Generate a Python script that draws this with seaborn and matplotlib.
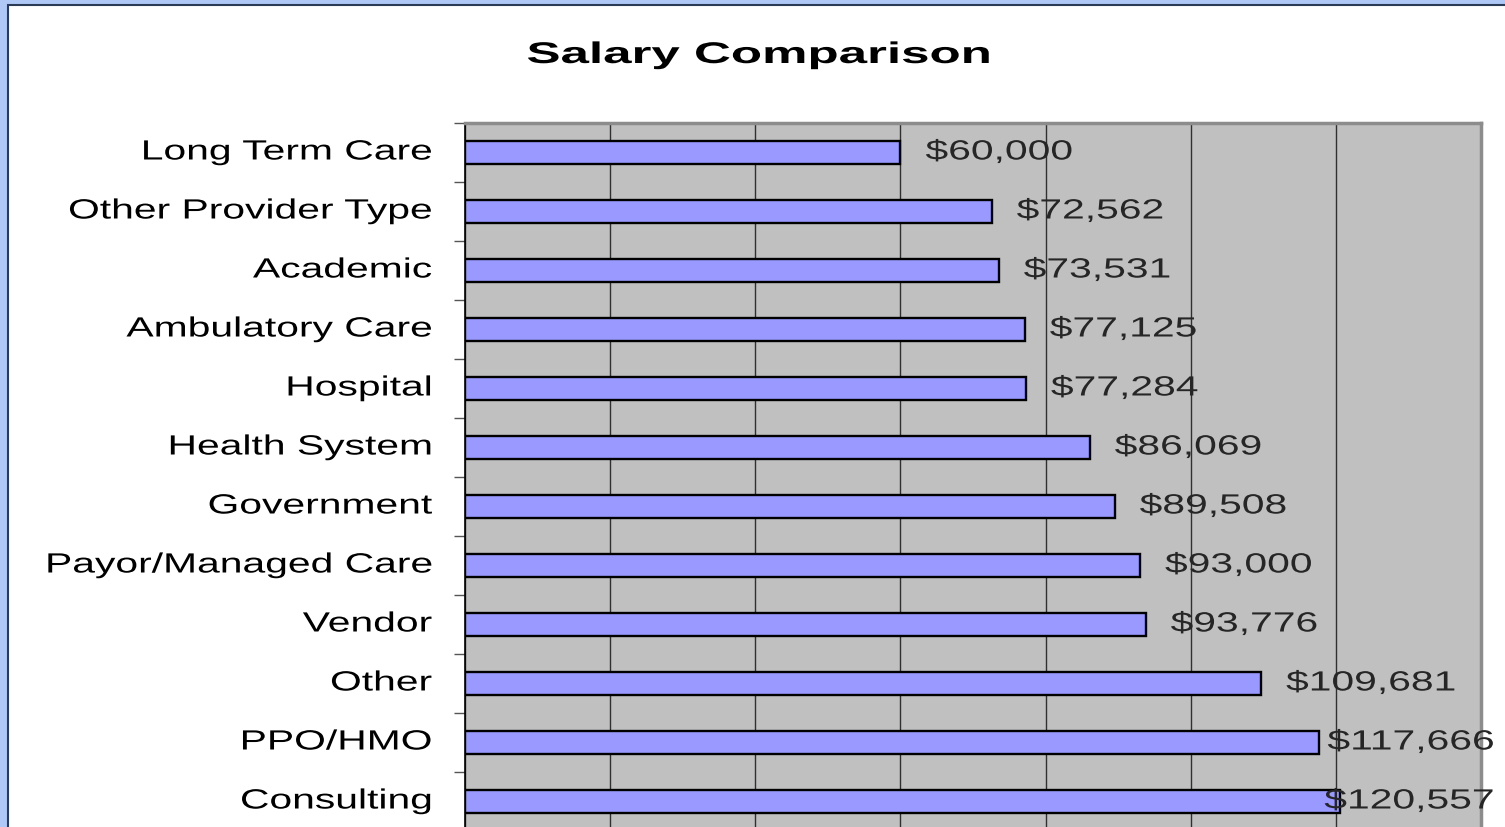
import matplotlib
matplotlib.use('Agg')
import matplotlib.pyplot as plt
import seaborn as sns
import pandas as pd
import numpy as np
from matplotlib.patches import Rectangle
from matplotlib.patheffects import AbstractPathEffect
from matplotlib.transforms import Affine2D

# ── data ─────────────────────────────────────────────
categories = ['Long Term Care', 'Other Provider Type', 'Academic', 'Ambulatory Care',
              'Hospital', 'Health System', 'Government', 'Payor/Managed Care',
              'Vendor', 'Other', 'PPO/HMO', 'Consulting']
salaries = [60000, 72562, 73531, 77125, 77284, 86069, 89508, 93000,
            93776, 109681, 117666, 120557]

df = pd.DataFrame({'category': categories, 'salary': salaries})


# the original chart uses a horizontally stretched Arial; widen glyphs around an anchor
class HStretch(AbstractPathEffect):
    def __init__(self, sx, anchor='left'):
        super().__init__()
        self.sx = sx
        self.anchor = anchor

    def draw_path(self, renderer, gc, tpath, affine, rgbFace=None):
        ext = tpath.get_extents()
        x0 = {'left': 0, 'right': ext.x1, 'center': (ext.x0 + ext.x1) / 2}[self.anchor]
        t = Affine2D().translate(-x0, 0).scale(self.sx, 1).translate(x0, 0) + affine
        renderer.draw_path(gc, tpath, t, rgbFace)


sns.set_style('white')
plt.rcParams['font.family'] = ['Liberation Sans', 'DejaVu Sans']

W, H = 1505, 827
fig = plt.figure(figsize=(W / 100, H / 100), dpi=100)
fig.patch.set_facecolor('#AFC8F5')

# white chart area with dark frame
fig.patches.append(Rectangle((8 / W, -0.05), 1.1, 1 - 5 / H + 0.05, transform=fig.transFigure,
                             facecolor='white', edgecolor='#2B3A55', linewidth=1.5, zorder=-10))

left, right, top, bottom = 465, 1481, 123, 831
ax = fig.add_axes([left / W, 1 - bottom / H, (right - left) / W, (bottom - top) / H])
ax.set_facecolor('#C0C0C0')

sns.barplot(data=df, x='salary', y='category', orient='h', color='#9999FF',
            saturation=1, width=0.4, edgecolor='black', linewidth=1.7, ax=ax, zorder=3)

ax.set_xlim(0, 140000)
ax.set_xticks(np.arange(0, 140001, 20000))
ax.xaxis.grid(True, color='#303030', linewidth=1)
ax.set_axisbelow(True)
ax.tick_params(axis='x', length=0, labelbottom=False)
ax.set_xlabel('')
ax.set_ylabel('')

LBL = 20
SX = 1.47
ax.set_yticks(np.arange(-0.5, len(categories), 1), minor=True)
ax.tick_params(axis='y', which='minor', length=8, color='#555555', width=1, left=True)
ax.tick_params(axis='y', which='major', length=0, pad=24, labelsize=LBL)
for lab in ax.get_yticklabels():
    lab.set_color('black')
    lab.set_verticalalignment('center')
    lab.set_path_effects([HStretch(SX, 'right')])

for s in ['top', 'right']:
    ax.spines[s].set_color('#8C8C8C')
    ax.spines[s].set_linewidth(2.5)
ax.spines['left'].set_color('black')
ax.spines['left'].set_linewidth(1.2)
ax.spines['bottom'].set_visible(False)

# value labels
for i, v in enumerate(salaries):
    txt = f'${v:,.0f}'
    if v > 115000:
        ax.text(141800, i, txt, ha='right', va='center', fontsize=LBL, zorder=5,
                clip_on=False, path_effects=[HStretch(SX, 'right')])
    else:
        ax.text(v + 3450, i, txt, ha='left', va='center', fontsize=LBL, zorder=5,
                path_effects=[HStretch(SX, 'left')])

fig.text(759 / W, 1 - 55 / H, 'Salary Comparison', ha='center', va='center',
         fontsize=21.5, fontweight='bold', color='black',
         path_effects=[HStretch(1.71, 'center')])

fig.savefig('out.png', dpi=100, facecolor=fig.get_facecolor())
